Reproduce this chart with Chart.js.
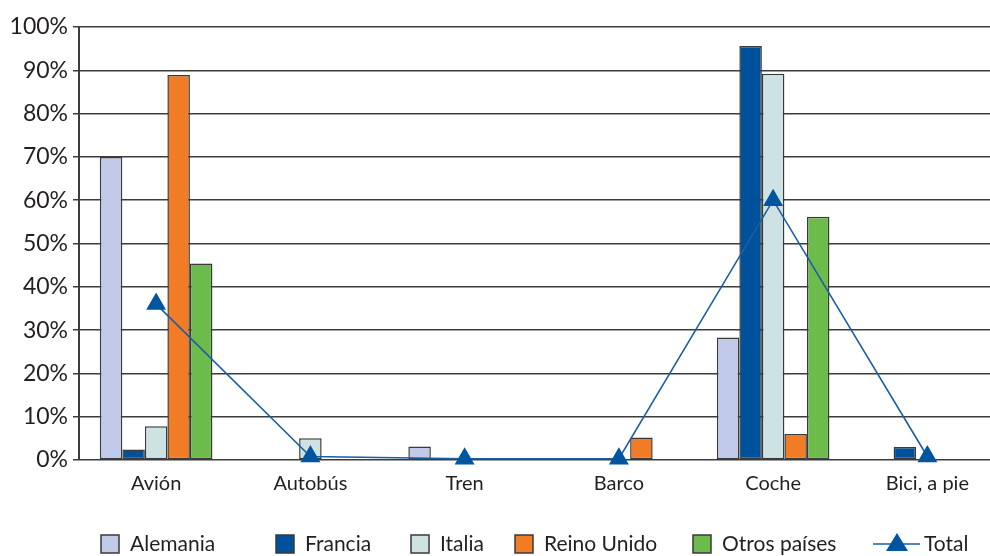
<!DOCTYPE html>
<html lang="es">
<head>
<meta charset="utf-8">
<title>Medio de transporte por país</title>
<script src="https://cdn.jsdelivr.net/npm/chart.js@4.4.1/dist/chart.umd.min.js"></script>
<style>
  html, body { margin: 0; padding: 0; background: #fff; overflow: hidden; }
  #wrap { width: 990px; height: 556px; overflow: hidden; }
  canvas { display: block; }
</style>
</head>
<body>
<div id="wrap"><canvas id="chart" width="1016" height="556"></canvas></div>
<script>
// share of trips (%) by means of transport, per country
const categories = ['Avión', 'Autobús', 'Tren', 'Barco', 'Coche', 'Bici, a pie'];
const alemania   = [70, 0, 3.1, 0, 28.3, 0];
const francia    = [2.4, 0, 0, 0, 95.6, 3];
const italia     = [7.8, 5, 0, 0, 89.2, 0];
const reinoUnido = [88.9, 0, 0, 5.2, 6, 0];
const otros      = [45.4, 0, 0, 0, 56.2, 0];
const total      = [36, 0.8, 0.3, 0.3, 60, 0.8];
const yTicks     = [0, 10, 20, 30, 40, 50, 60, 70, 80, 90, 100];

const FONT = 'Lato, "DejaVu Sans", sans-serif';
const TEXT = '#231f20';
const GRID = '#3c3c3c';

const barSeries = [
  { label: 'Alemania',     data: alemania,   color: '#c1cae8' },
  { label: 'Francia',      data: francia,    color: '#00519c' },
  { label: 'Italia',       data: italia,     color: '#cfe2e3' },
  { label: 'Reino Unido',  data: reinoUnido, color: '#f27b25' },
  { label: 'Otros países', data: otros,      color: '#6dbb4a' }
];

// x of each legend entry (box or line start), left to right
const legendX = [101, 276, 411, 515, 693, 873];

const datasets = barSeries.map(s => ({
  type: 'bar',
  label: s.label,
  data: s.data,
  backgroundColor: s.color,
  borderColor: '#3a3a3a',
  borderWidth: 1.5,
  borderSkipped: false,
  categoryPercentage: 0.73,
  barPercentage: 1,
  order: 1
}));

datasets.push({
  type: 'line',
  label: 'Total',
  data: total,
  borderColor: '#1a5ea6',
  borderWidth: 1.6,
  pointStyle: 'triangle',
  pointRadius: 11.5,
  pointHoverRadius: 11.5,
  pointBackgroundColor: '#0055a0',
  pointBorderColor: '#0055a0',
  pointBorderWidth: 0,
  tension: 0,
  clip: false,
  order: 0
});

// legend row under the axis, drawn straight on the canvas
const bottomLegend = {
  id: 'bottomLegend',
  afterDraw(chart) {
    const ctx = chart.ctx;
    const y = 544;
    ctx.save();
    ctx.font = '21px ' + FONT;
    ctx.textBaseline = 'middle';
    ctx.fillStyle = TEXT;
    chart.data.datasets.forEach((ds, i) => {
      const x = legendX[i];
      if (ds.type === 'bar') {
        ctx.fillStyle = ds.backgroundColor;
        ctx.fillRect(x, y - 9, 18, 18);
        ctx.strokeStyle = '#3a3a3a';
        ctx.lineWidth = 1.5;
        ctx.strokeRect(x, y - 9, 18, 18);
        ctx.fillStyle = TEXT;
        ctx.fillText(ds.label, x + 29, y);
      } else {
        ctx.strokeStyle = ds.borderColor;
        ctx.lineWidth = 1.6;
        ctx.beginPath();
        ctx.moveTo(x, y);
        ctx.lineTo(x + 47, y);
        ctx.stroke();
        ctx.fillStyle = ds.pointBackgroundColor;
        ctx.beginPath();
        ctx.moveTo(x + 24, y - 11);
        ctx.lineTo(x + 35, y + 7);
        ctx.lineTo(x + 13, y + 7);
        ctx.closePath();
        ctx.fill();
        ctx.fillStyle = TEXT;
        ctx.fillText(ds.label, x + 51, y);
      }
    });
    ctx.restore();
  }
};

new Chart(document.getElementById('chart'), {
  data: { labels: categories, datasets },
  options: {
    responsive: false,
    devicePixelRatio: 1,
    animation: false,
    layout: { padding: { top: 27, right: 0, bottom: 0, left: 0 } },
    scales: {
      x: {
        offset: true,
        grid: { display: false, drawTicks: false },
        border: { display: false },
        ticks: {
          color: TEXT,
          font: { family: FONT, size: 20 },
          padding: 12,
          maxRotation: 0
        },
        afterFit(scale) { scale.height = 96; }
      },
      y: {
        min: 0,
        max: 100,
        afterBuildTicks(scale) { scale.ticks = yTicks.map(v => ({ value: v })); },
        grid: { color: GRID, lineWidth: 1.5, tickLength: 6 },
        border: { display: true, color: GRID, width: 2 },
        ticks: {
          color: TEXT,
          font: { family: FONT, size: 23 },
          padding: 5,
          callback: v => v + '%'
        },
        afterFit(scale) { scale.width = 79; }
      }
    },
    plugins: {
      legend: { display: false },
      tooltip: { enabled: false }
    }
  },
  plugins: [bottomLegend]
});
</script>
</body>
</html>
